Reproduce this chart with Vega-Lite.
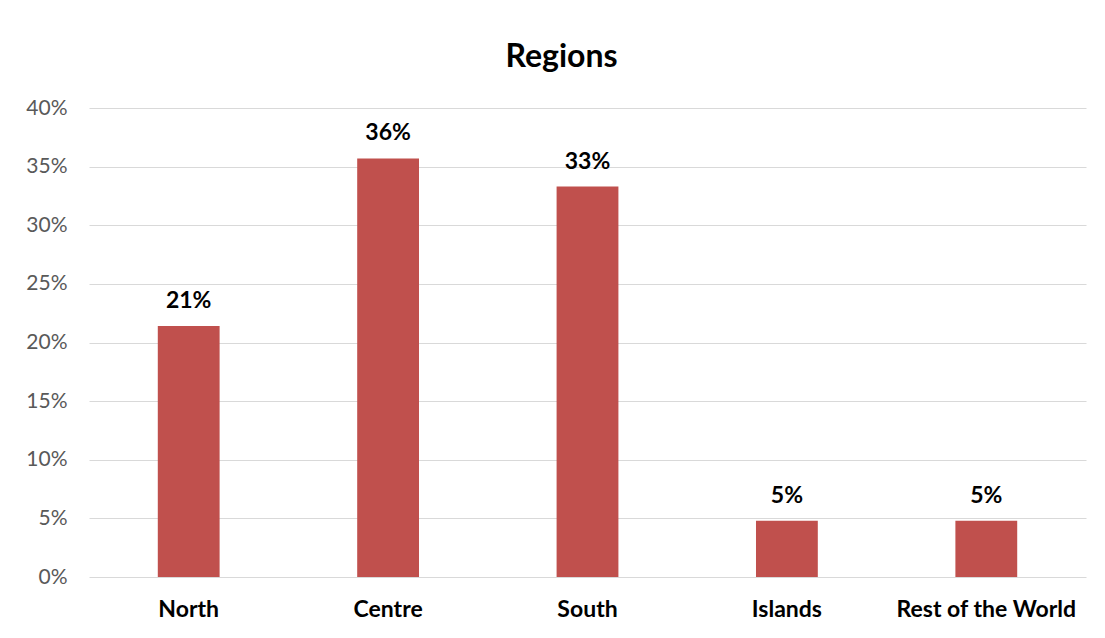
{
  "$schema": "https://vega.github.io/schema/vega-lite/v6.json",
  "autosize": {"type": "none"},
  "width": 997,
  "height": 469,
  "padding": {"left": 89, "top": 108, "right": 19, "bottom": 61},
  "background": "white",
  "title": {
    "text": "Regions",
    "font": "Lato",
    "fontSize": 32,
    "fontWeight": "bold",
    "color": "#000000",
    "anchor": "middle",
    "dx": -26,
    "offset": 23
  },
  "data": {
    "values": [
      {"region": "North", "share": 0.214},
      {"region": "Centre", "share": 0.357},
      {"region": "South", "share": 0.333},
      {"region": "Islands", "share": 0.048},
      {"region": "Rest of the World", "share": 0.048}
    ]
  },
  "encoding": {
    "x": {
      "field": "region",
      "type": "nominal",
      "sort": null,
      "scale": {"paddingInner": 0.69, "paddingOuter": 0.345},
      "axis": {
        "title": null,
        "labelAngle": 0,
        "labelFont": "Lato",
        "labelFontSize": 23,
        "labelFontWeight": "bold",
        "labelColor": "#000000",
        "labelPadding": 21,
        "labelLimit": 0,
        "labelOverlap": false,
        "domain": false,
        "ticks": false
      }
    },
    "y": {
      "field": "share",
      "type": "quantitative",
      "scale": {"domain": [0, 0.4]},
      "axis": {
        "title": null,
        "format": ".0%",
        "values": [0, 0.05, 0.1, 0.15, 0.2, 0.25, 0.3, 0.35, 0.4],
        "labelFont": "Lato",
        "labelFontSize": 21,
        "labelColor": "#595959",
        "labelPadding": 22,
        "domain": false,
        "ticks": false,
        "gridColor": "#D9D9D9",
        "gridWidth": 1
      }
    }
  },
  "layer": [
    {"mark": {"type": "bar", "color": "#C0504D"}},
    {
      "mark": {
        "type": "text",
        "baseline": "bottom",
        "dy": -13,
        "font": "Lato",
        "fontSize": 23,
        "fontWeight": "bold",
        "color": "#000000"
      },
      "encoding": {"text": {"field": "share", "type": "quantitative", "format": ".0%"}}
    }
  ],
  "config": {"view": {"stroke": null}}
}
